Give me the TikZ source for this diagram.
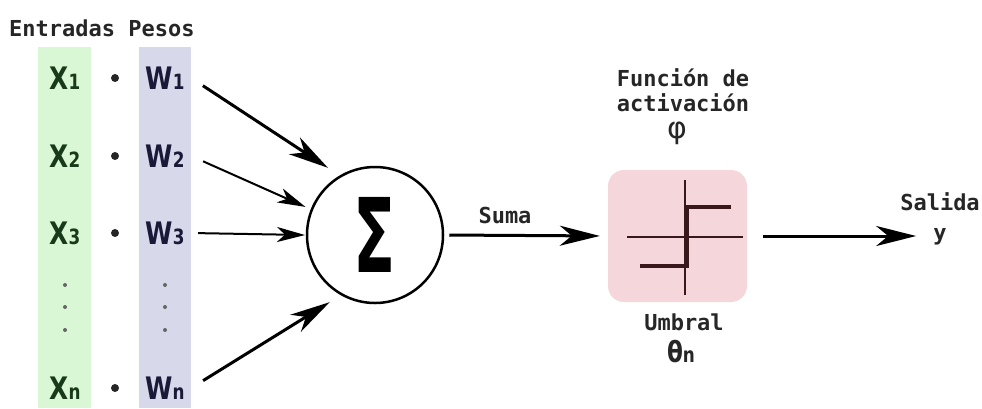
\documentclass[tikz,border=0pt]{standalone}
\usepackage{fontspec}
\setmainfont{DejaVu Sans}
\newfontfamily\labelfont{DejaVu Sans Mono}
\usepackage{graphicx}
\usetikzlibrary{arrows.meta,calc,positioning}
\definecolor{incolor}{HTML}{D9F7D5}
\definecolor{wcolor}{HTML}{D7D9EB}
\definecolor{actcolor}{HTML}{F5D7DB}
\definecolor{xtext}{HTML}{183A18}
\definecolor{wtext}{HTML}{1A1A38}
\definecolor{stepcolor}{HTML}{3A171B}
\newcommand\lowidx[1]{{\fontsize{21}{21}\selectfont #1}}   % small index on the baseline
\newcommand\narrow[1]{\scalebox{0.8}[1]{#1}}                % condensed symbol
\tikzset{
       arr/.style = {-{Stealth[length=40pt, width=20pt, inset=12pt]}, line width=3pt},   % <--- heavy arrows
      tarr/.style = {-{Stealth[length=28pt, width=15pt, inset=8pt]}, line width=2pt},    % <--- light arrows
       lbl/.style = {font=\labelfont\bfseries\fontsize{22}{25}\selectfont,
                     text=black!85, align=center, inner sep=0pt},
       xin/.style = {font=\bfseries\fontsize{31}{31}\selectfont, text=xtext, inner sep=0pt},
       win/.style = {xin, text=wtext, minimum width=52pt},
    bullet/.style = {circle, fill=black!85, inner sep=0pt, minimum size=#1},
    bullet/.default=8pt,
   actbox/.style = {fill=actcolor, rounded corners=16pt,
                     minimum width=139pt, minimum height=132pt},
}

\begin{document}
\begin{tikzpicture}[x=1pt, y=-1pt]
\useasboundingbox (0,0) rectangle (982,408);
% input and weight columns
\fill[incolor] (38,47) rectangle (91,408);
\fill[wcolor] (139,47) rectangle (191,408);
\node[lbl, anchor=west] (head) at (9,28) {Entradas Pesos};

\foreach \i/\y in {1/78, 2/156, 3/233, n/388} {
  \node[xin] (x\i) at (65,\y) {\narrow{X\lowidx{\i}}};
  \node[bullet] (p\i) at (115,\y) {};
  \node[win] (w\i) at (165,\y) {\narrow{W\lowidx{\i}}};
}
\foreach \y in {285,307,330} {
  \node[bullet=4pt, fill=black!60] (xd\y) at (65,\y) {};
  \node[bullet=4pt, fill=black!60] (wd\y) at (165,\y) {};
}

% summing junction
\node[circle, draw, line width=2.5pt, minimum size=136pt] (sum) at (375,235)
     {\scalebox{0.6}[1]{\bfseries\fontsize{103}{103}\selectfont Σ}};
\coordinate (e1) at ($(sum.center)+(125:82pt)$);
\coordinate (e2) at ($(sum.center)+(158:75pt)$);
\coordinate (e3) at ($(sum.center)+(180:70pt)$);
\coordinate (en) at ($(sum.center)+(236:81pt)$);
\draw[arr, shorten <=14pt] (w1.east) -- (e1);
\draw[tarr, shorten <=13pt] (w2.east) -- (e2);
\draw[tarr, shorten <=7pt] (w3.east) -- (e3);
\draw[arr, shorten <=14pt] (wn.east) -- (en);

% activation function
\node[actbox] (act) at (677.5,236) {};
\draw[arr, shorten <=5pt, shorten >=8pt] (sum.east) -- (act.west);
\node[lbl] (suma) at (505,215) {Suma};
\begin{scope}[shift={(act.center)}, stepcolor]
  \draw[line width=1.5pt] (-50.5,1) -- (65.5,1);
  \draw[line width=1.5pt] (7.5,-56) -- (7.5,59);
  \draw[line width=3.5pt] (-37.5,30) -- (9.5,30) -- (9.5,-29) -- (53.5,-29);
\end{scope}
\node[lbl] (fname) at (683,90) {Función de\\activación};
\node[font=\fontsize{30}{30}\selectfont, text=black!85, inner sep=0pt] (phi) at (677,133) {φ};
\node[lbl] (umbral) at (684,322) {Umbral};
\node[font=\bfseries\fontsize{29}{29}\selectfont, text=black!85, inner sep=0pt] (theta) at (681,352)
     {\narrow{θ\lowidx{n}}};

% output
\node[lbl] (salida) at (940,202) {Salida};
\node[lbl] (yout) at (940,237) {y};
\draw[arr, shorten <=16pt, shorten >=17pt] (act.east) -- (act.east -| yout.west);
\end{tikzpicture}
\end{document}
